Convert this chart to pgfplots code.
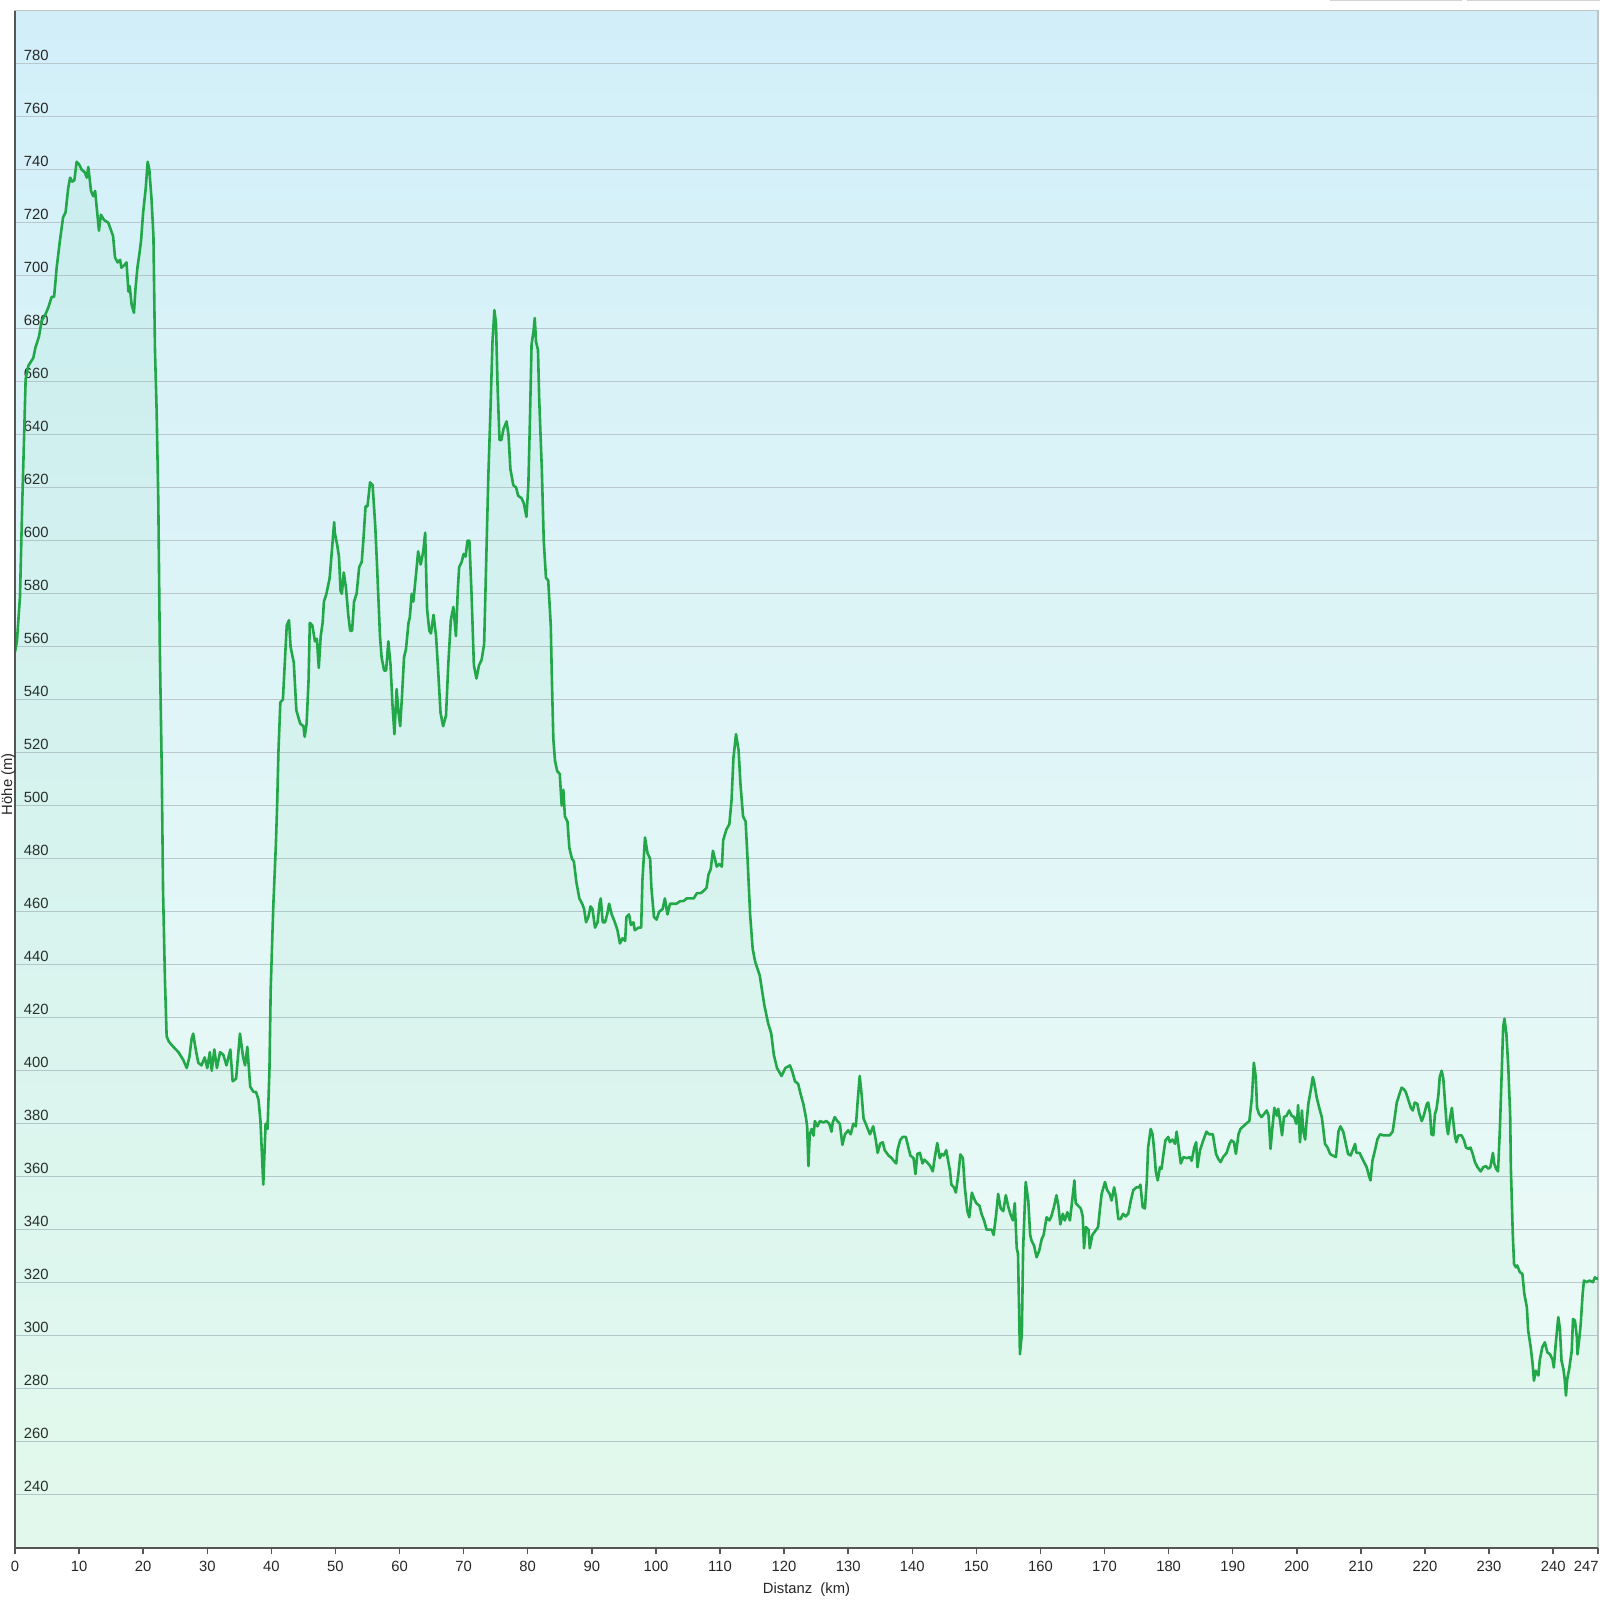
\documentclass[border=0pt]{standalone}
\usepackage{pgfplots}
\pgfplotsset{compat=1.18}
\usepackage{pgfplotstable}
\usepackage{fontspec}
\setmainfont{Liberation Sans}
\definecolor{linec}{RGB}{34,168,72}
\definecolor{gridc}{RGB}{186,200,206}
\definecolor{bgtop}{RGB}{210,239,249}
\definecolor{bgmid}{RGB}{236,247,251}
\definecolor{bgbot}{RGB}{238,252,245}
\definecolor{fillc}{RGB}{60,200,110}
\definecolor{axc}{RGB}{85,85,85}
\definecolor{framec}{RGB}{190,195,198}

\pgfplotstableread{
km h
0 558
0.3 562
0.78 579
1.14 615
1.46 643
1.66 661
2.08 666
2.86 669
3.2 673
3.74 677
4.16 683
4.68 685
5.2 688
5.72 692
6.1 692
6.5 703
7.0 713
7.5 722
7.9 724
8.3 733
8.6 737
8.94 735.5
9.26 736
9.62 743
10.0 742
10.4 740
10.9 739
11.2 737
11.44 741
11.86 732
12.2 730
12.5 732
12.74 726
13.1 717
13.4 723
13.9 721
14.56 720
15.0 717
15.3 715
15.6 707
16.0 705
16.4 706
16.6 703
17.06 704
17.4 705
17.7 694
17.9 696
18.2 689
18.56 686
18.8 695
19.1 703
19.4 708
19.66 713
20.0 724
20.4 733
20.7 743
20.96 740
21.3 729
21.6 715
21.84 672
22.1 649
22.36 615
22.6 559
22.9 513
23.1 468
23.4 434
23.66 413
24.0 411
24.7 409
25.5 407
26.26 404
26.8 401
27.2 405
27.56 412
27.8 414
28.2 408
28.6 403
29.1 402
29.6 405
30.0 401
30.4 407
30.7 400
31.1 408
31.5 401
32.0 407
32.5 406
33.0 402
33.6 408
33.96 396
34.5 397
35.1 414
35.6 405
35.9 402
36.25 409
36.7 394
37.2 392
37.6 392
38.0 389
38.3 381
38.74 357
39.1 380
39.4 378
39.7 400
39.9 431
40.3 462
40.7 485
40.9 500
41.1 520
41.4 539
41.8 540
42.1 554
42.4 568
42.75 570
43.0 560
43.5 554
43.9 536
44.5 531
45.0 530
45.2 526
45.5 531
45.8 547
46.0 569
46.4 568
46.8 562
47.1 563
47.4 552
47.7 564
48.0 569
48.2 577
48.6 580
49.1 586
49.6 601
49.8 607
49.9 603
50.3 598
50.55 594
50.8 581
51.0 580
51.3 588
51.65 582
52.0 572
52.3 566
52.6 566
52.9 577
53.3 580
53.7 590
54.1 592
54.35 600
54.7 613
55.0 613
55.4 622
55.8 621
56.2 606
56.5 590
56.95 564
57.2 556
57.6 551
57.9 551
58.25 562
58.6 553
58.9 538
59.2 527
59.55 544
59.8 536
60.1 530
60.4 542
60.7 556
61.0 559
61.4 569
61.6 571
61.9 580
62.15 577
62.6 588
62.9 596
63.3 591
63.7 596
64.0 603
64.3 574
64.65 566
64.9 565
65.3 572
65.7 564
66.05 550
66.4 535
66.8 530
67.25 534
67.6 553
68.0 570
68.4 575
68.8 564
69.1 582
69.3 590
69.7 592
70.0 595
70.3 594
70.6 600
70.9 600
71.25 579
71.6 553
72.0 548
72.4 553
72.8 555
73.2 561
73.5 590
73.85 624
74.2 650
74.5 675
74.8 687
75.05 682
75.3 658
75.6 638
75.9 638
76.2 642
76.7 645
77.0 640
77.3 627
77.75 621
78.2 620
78.5 617
79.05 616
79.4 614
79.8 609
80.1 621
80.35 646
80.6 674
80.9 679
81.1 684
81.3 675
81.6 672
81.8 653
82.2 627
82.5 600
82.85 586
83.2 585
83.6 568
83.74 551
84.0 525
84.26 517
84.6 513
85.0 512
85.3 500
85.56 506
85.8 496
86.2 494
86.5 484
86.9 480
87.2 479
87.6 471
88.06 465
88.5 463
88.8 461
89.1 456
89.46 458
89.8 462
90.1 461
90.5 454
90.9 456
91.2 463
91.4 465
91.7 456
92.06 456
92.4 459
92.7 463
93.1 459
93.6 456
94.0 453
94.4 448
94.8 450
95.2 449
95.4 458
95.8 459
96.1 455
96.5 456
96.7 453
97.3 454
97.7 454
97.9 472
98.3 488
98.7 482
99.1 480
99.3 469
99.7 458
100.1 457
100.5 460
101.05 461
101.4 465
101.8 459
102.2 463
102.7 463
103.2 463
103.8 464
104.3 464
104.8 465
105.3 465
105.9 465
106.4 467
107.0 467
107.5 468
107.9 469
108.2 474
108.55 476
108.9 483
109.2 480
109.5 477
109.9 478
110.3 477
110.5 487
111.0 491
111.46 493
111.8 502
112.1 518
112.5 527
112.9 521
113.2 508
113.6 496
114.0 494
114.3 480
114.7 459
115.1 446
115.5 441
116.2 436
116.9 425
117.5 418
118.0 414
118.4 406
118.9 401
119.6 398
120.2 401
120.92 402
121.3 399.5
121.7 396
122.2 395
122.6 391
123.0 387.5
123.4 382.5
123.6 379
123.8 364
124.0 376
124.3 378
124.6 375.5
124.8 381
125.2 379
125.6 381
126.1 380.5
126.6 381
127.05 380
127.4 377
127.6 380.5
127.9 382.5
128.3 381
128.7 380
129.1 372
129.5 376
130.0 377.5
130.4 376
130.8 380
131.2 379
131.5 389
131.8 398
132.1 391
132.4 382
132.9 379
133.4 376
133.9 379
134.3 374
134.6 369
135.0 372.5
135.4 373
135.7 370
136.3 368
136.8 367
137.1 366
137.5 365
137.7 370
138.1 373.7
138.5 375
139.0 375
139.4 371
139.7 368
140.2 367
140.5 361
140.8 368.6
141.2 369
141.6 365
141.9 366.4
142.3 365.5
142.8 364
143.2 362
143.5 367
143.9 372.7
144.3 367
144.6 368.6
144.9 368
145.3 370
145.6 366
145.9 362
146.1 357
146.5 356
146.8 354
147.2 361
147.5 368.4
147.9 367
148.2 356
148.6 347
148.9 344.7
149.3 354
149.6 352
150.0 350
150.5 349
150.8 346
151.2 343.5
151.6 340
152.0 340
152.4 340
152.7 338
153.1 346
153.4 353.5
153.8 348
154.2 347
154.6 353
155.0 348.5
155.3 346
155.7 343.5
156.0 350
156.3 333
156.5 331
156.8 293
157.1 300.7
157.3 333
157.7 358
158.1 351
158.4 338
158.6 336
159.0 334
159.4 329.6
159.8 332
160.2 336.5
160.5 338
160.96 344.7
161.4 343.5
161.7 345
162.1 348.5
162.5 353
162.8 349
163.1 342
163.5 346
163.8 343.5
164.2 346.6
164.6 343.5
165.0 352
165.3 358.6
165.5 350
165.9 349
166.3 348
166.6 345
166.8 333
167.1 341
167.5 340
167.7 333
168.1 338
168.7 340
169.0 341
169.25 347
169.55 353.5
170.07 358
170.4 355
170.8 353.5
171.1 351
171.5 356
171.8 352
172.15 344
172.5 344
172.9 346
173.3 345
173.7 346
174.1 351
174.5 355
175.0 356
175.4 356
175.6 357
175.95 348.5
176.3 348
176.6 358.6
176.8 371
177.2 378
177.5 376
177.8 368.6
178.0 362
178.3 358.6
178.65 363.6
178.9 363
179.2 368.6
179.5 373.7
179.95 375
180.2 373
180.6 374
181.0 372.4
181.25 377
181.5 372.4
181.9 365
182.3 367.4
182.8 367
183.3 367.4
183.6 366
184.0 371
184.3 373
184.5 363.6
184.9 370
185.4 373.7
185.9 377
186.3 376
186.9 376
187.4 368.6
187.75 366.7
188.1 365.5
188.5 367.4
189.05 369
189.5 372.4
189.8 373.7
190.2 373
190.5 368.6
190.9 376
191.2 378
191.65 379
192.1 380
192.6 381
193.0 390
193.3 403
193.6 397.6
193.8 386
194.1 383.7
194.5 382.5
194.9 383.7
195.3 385
195.6 383
195.9 370.5
196.2 378.7
196.5 386
196.9 383
197.1 385.6
197.4 381
197.7 375.6
198.0 382.5
198.4 383
198.8 385
199.2 383
199.6 382.5
199.9 380
200.1 383
200.2 387
200.5 373
200.8 385
201.0 377.5
201.3 374
201.5 380
201.8 387.5
202.2 393
202.5 397.6
202.7 395.7
203.1 390
203.5 386
203.9 382.5
204.1 378.7
204.4 372.4
204.8 371
205.2 368.6
205.6 368
206.1 367.4
206.5 377
206.8 379
207.25 377
207.7 372
208.0 368.6
208.4 368
208.8 370.5
209.1 372.4
209.3 369
209.8 369
210.1 367.4
210.5 365.5
210.9 363.6
211.3 360
211.5 358.6
211.8 366
212.2 370
212.6 374.3
213.0 376
213.5 375.6
214.0 375.6
214.5 375.6
214.95 377
215.2 381
215.6 388
216.0 391
216.35 393.6
216.7 393
217.0 392
217.4 389
217.8 386
218.1 385
218.4 388
218.8 387.5
219.1 384
219.5 381
219.8 383
220.3 387.5
220.5 388
220.8 383.7
221.0 376
221.3 375.6
221.56 383.7
221.8 385.6
222.1 391
222.3 397.6
222.6 400
222.86 397
223.1 389
223.4 379
223.6 376
223.9 382
224.2 386
224.4 381
224.7 375
224.9 373
225.2 375.6
225.7 375.6
226.1 373.7
226.4 371
226.8 370.5
227.1 371
227.4 369
227.8 365.5
228.2 363.6
228.7 362
229.1 363.6
229.5 364
229.9 363
230.2 363.6
230.6 369
230.8 365
231.1 363
231.4 362
231.7 378.7
232.0 401.4
232.2 416.5
232.4 419.6
232.7 414
233.0 401.4
233.3 382.5
233.4 363.6
233.7 338.4
233.9 327
234.2 325.8
234.4 326.5
234.8 324
235.2 323.3
235.5 315.8
235.9 310.7
236.1 302
236.5 295.6
236.8 289.3
237.0 283
237.3 286.8
237.7 285
237.9 290.6
238.3 295.6
238.7 297.5
239.1 293.7
239.5 293
239.9 291
240.1 288
240.4 296.9
240.8 307
241.06 302.5
241.3 290.6
241.6 287.4
241.8 283.7
242.0 277.4
242.2 283.7
242.5 287.4
242.9 294.4
243.1 306.3
243.4 305.7
243.7 299.4
243.8 293
244.1 299.4
244.3 304.4
244.6 315.8
244.8 320.8
245.2 320.2
245.7 320.8
246.2 320.2
246.5 322
246.9 321.4
247.0 322
}\profile

\begin{document}
\begin{tikzpicture}
\useasboundingbox (-7.5pt,-26.15pt) rectangle (792.5pt,773.85pt);
\draw[gray!35, line width=1pt] (657.5pt,773.6pt) -- (723.5pt,773.6pt);
\draw[gray!35, line width=1pt] (726pt,773.6pt) -- (792.5pt,773.6pt);
\begin{axis}[
  at={(0pt,0pt)}, anchor=south west, scale only axis,
  width=791.5pt, height=768.5pt,
  xmin=0, xmax=247, ymin=220, ymax=800,
  axis background/.style={top color=bgtop, middle color=bgmid, bottom color=bgbot},
  axis line style={draw=framec, line width=0.75pt},
  xtick={0,10,...,240},
  extra x ticks={247},
  extra x tick style={xticklabel style={anchor=north east, xshift=0.5pt}},
  ytick={240,260,...,780},
  xtick pos=bottom, ytick pos=left,
  tick align=outside,
  major tick length=3.25pt,
  xtick style={draw=axc, line width=0.75pt},
  ytick style={draw=none},
  ymajorgrids, grid style={draw=gridc, line width=0.75pt},
  /pgf/number format/assume math mode=true,
  tick label style={font=\fontsize{7.4}{8}\selectfont, text=black!85},
  xticklabel style={anchor=north, inner sep=0pt, yshift=-3.4pt},
  yticklabel style={anchor=base west, inner sep=0pt, xshift=7.5pt, yshift=1.8pt},
  xlabel={Distanz\ \ (km)}, ylabel={Höhe (m)},
  label style={font=\fontsize{7.4}{8}\selectfont, text=black!85},
  xlabel style={at={(rel axis cs:0.5,0)}, anchor=base, yshift=-22.7pt},
  ylabel style={at={(rel axis cs:0,0.5)}, anchor=center, yshift=3.3pt, xshift=-2.5pt},
  clip mode=individual,
]
\addplot[draw=none, fill=fillc, fill opacity=0.06] table[x=km,y=h]{\profile} \closedcycle;
\addplot[linec, line width=1.3pt, line join=round] table[x=km,y=h]{\profile};
\draw[axc, line width=1pt] (rel axis cs:0,0) -- (rel axis cs:0,1);
\draw[axc, line width=1pt] (rel axis cs:0,0) -- (rel axis cs:1,0);
\end{axis}
\end{tikzpicture}
\end{document}
